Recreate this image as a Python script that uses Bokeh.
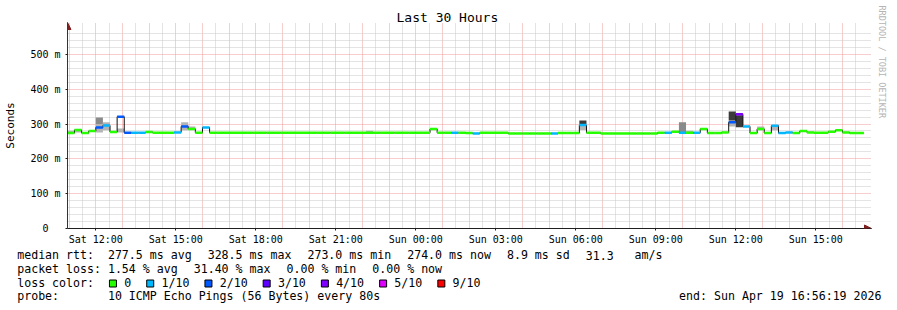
import pandas as pd
from bokeh.plotting import figure
from bokeh.models import Range1d, FixedTicker, Arrow, NormalHead, Title
from bokeh.core.properties import value
from bokeh.embed import file_html
from bokeh.resources import INLINE

# ---------------- data ----------------
range_start = "2026-04-18 10:56:19"
range_end = "2026-04-19 16:56:19"
first_step = "2026-04-18 10:56:00"
step_minutes = 16

# median round trip time per 16-minute step (ms)
median_ms = [
    274, 283, 274, 280, 290, 296, 277, 321, 275, 275,
    275, 277, 275, 275, 275, 276, 293, 286, 275, 290,
    275, 275, 275, 275, 275, 275, 275, 275, 275, 275,
    275, 275, 275, 275, 275, 275, 275, 275, 275, 275,
    275, 275, 275, 275, 275, 275, 275, 275, 275, 275,
    275, 286, 275, 275, 275, 275, 274, 273, 275, 275,
    275, 275, 273, 273, 273, 273, 273, 273, 273, 274,
    274, 274, 297, 275, 275, 273, 273, 273, 273, 273,
    273, 273, 273, 275, 275, 278, 275, 275, 275, 286,
    274, 274, 276, 305, 328, 293, 274, 286, 274, 295,
    274, 276, 274, 280, 276, 275, 275, 278, 282, 276,
    274, 274,
]
# packet loss per step (% of pings)
loss_pct = [
    0, 0, 0, 0, 15, 5, 0, 15, 15, 5,
    5, 0, 0, 0, 0, 5, 15, 0, 0, 5,
    0, 0, 0, 0, 0, 0, 0, 0, 0, 0,
    0, 0, 0, 0, 0, 0, 0, 0, 0, 0,
    0, 0, 0, 0, 0, 0, 0, 0, 0, 0,
    0, 0, 0, 0, 5, 0, 0, 5, 0, 0,
    0, 0, 0, 0, 0, 0, 0, 0, 5, 0,
    0, 0, 5, 0, 0, 0, 0, 0, 0, 0,
    0, 0, 0, 0, 5, 0, 5, 0, 5, 0,
    0, 0, 0, 15, 31.4, 5, 0, 0, 0, 5,
    5, 5, 0, 0, 0, 0, 0, 0, 0, 0,
    0, 0,
]
# smoke (spread of the pings) - light, medium and dark bands
smoke_light_idx = [0, 1, 4, 5, 7, 16, 17, 42, 72, 87, 93, 97, 99]
smoke_light_lo = [274, 276, 276, 282, 276, 282, 283, 276, 283, 277, 293, 282, 282]
smoke_light_hi = [281, 283, 300, 305, 287, 305, 293, 281, 300, 281, 310, 293, 296]
smoke_mid_idx = [4, 86]
smoke_mid_lo = [300, 276]
smoke_mid_hi = [319, 305]
smoke_dark_idx = [72, 93, 94]
smoke_dark_lo = [300, 310, 291]
smoke_dark_hi = [310, 336, 325]

# loss colour legend
loss_labels = ["0", "1/10", "2/10", "3/10", "4/10", "5/10", "9/10"]
loss_upper = [0, 10, 20, 30, 40, 50, 100]
loss_colors = ["#26ff00", "#00b8ff", "#0059ff", "#5e00ff", "#7e00ff", "#dd00ff", "#ff0000"]

# axes
x_tick_times = ["2026-04-18 12:00", "2026-04-18 15:00", "2026-04-18 18:00", "2026-04-18 21:00",
                "2026-04-19 00:00", "2026-04-19 03:00", "2026-04-19 06:00", "2026-04-19 09:00",
                "2026-04-19 12:00", "2026-04-19 15:00"]
x_tick_labels = ["Sat 12:00", "Sat 15:00", "Sat 18:00", "Sat 21:00", "Sun 00:00",
                 "Sun 03:00", "Sun 06:00", "Sun 09:00", "Sun 12:00", "Sun 15:00"]
y_ticks = [0, 100, 200, 300, 400, 500]
y_tick_labels = ["0\u00a0\u00a0", "100 m", "200 m", "300 m", "400 m", "500 m"]
y_max = 580

# texts
title_text = "Last 30 Hours"
y_label = "Seconds"
rrd_credit = "RRDTOOL / TOBI OETIKER"
median_head = "median rtt:"
median_stats = ["277.5 ms avg", "328.5 ms max", "273.0 ms min", "274.0 ms now", "8.9 ms sd"]
am_value, am_unit = "31.3", "am/s"
loss_head = "packet loss:"
loss_stats = ["1.54 % avg", "31.40 % max", "0.00 % min", "0.00 % now"]
color_head = "loss color:"
probe_head = "probe:"
probe_text = "10 ICMP Echo Pings (56 Bytes) every 80s"
end_text = "end: Sun Apr 19 16:56:19 2026"

# ---------------- derived ----------------
def ms(t):
    return pd.Timestamp(t).value / 1e6

n = len(median_ms)
edges = pd.date_range(first_step, periods=n + 1, freq=f"{step_minutes}min")
left = edges[:-1]
right = edges[1:]

def loss_color(v):
    for up, c in zip(loss_upper, loss_colors):
        if v <= up:
            return c
    return loss_colors[-1]

seg_colors = [loss_color(v) for v in loss_pct]

FONT = "DejaVu Sans Mono"
t0, t1 = pd.Timestamp(range_start), pd.Timestamp(range_end)
# a few pixels of room beyond the data window for the axis arrow heads
x_pad = pd.Timedelta(minutes=9)
y_pad = 11.5

p = figure(width=897, height=248, x_axis_type="datetime",
           x_range=Range1d(t0, t1 + x_pad), y_range=Range1d(0, y_max + y_pad),
           output_backend="svg", toolbar_location=None,
           min_border_left=67, min_border_right=26, min_border_top=22, min_border_bottom=20)
p.background_fill_color = "white"
p.border_fill_color = "white"
p.outline_line_color = None

# title
p.title.text = title_text
p.title.text_font = FONT
p.title.text_font_size = "13px"
p.title.text_font_style = "normal"
p.title.text_color = "black"
p.title.align = "left"
p.title.offset = 329
p.title.standoff = -5

# grids
hour_ticks = [ms(t) for t in pd.date_range("2026-04-18 11:00", "2026-04-19 16:00", freq="1h")]
half_ticks = [ms(t) for t in pd.date_range("2026-04-18 11:30", "2026-04-19 16:30", freq="1h")]
p.xgrid.ticker = FixedTicker(ticks=hour_ticks, minor_ticks=half_ticks)
p.ygrid.ticker = FixedTicker(ticks=y_ticks, minor_ticks=[v for v in range(20, y_max, 20) if v % 100])
for g in (p.xgrid[0], p.ygrid[0]):
    g.grid_line_color = "#ee9a9a"
    g.grid_line_dash = "1 1"
    g.grid_line_width = 1
    g.minor_grid_line_color = "#c8c8c8"
    g.minor_grid_line_dash = "1 1"
    g.minor_grid_line_width = 1

# axes
x_tick_ms = [ms(t) for t in x_tick_times]
p.xaxis.ticker = FixedTicker(ticks=x_tick_ms)
p.xaxis.major_label_overrides = {k: v for k, v in zip(x_tick_ms, x_tick_labels)}
p.yaxis.ticker = FixedTicker(ticks=y_ticks)
p.yaxis.major_label_overrides = {k: v for k, v in zip(y_ticks, y_tick_labels)}
for ax in (p.xaxis[0], p.yaxis[0]):
    ax.major_label_text_font = FONT
    ax.major_label_text_font_size = "10px"
    ax.major_label_text_color = "black"
    ax.major_tick_in = 0
    ax.major_tick_out = 2
    ax.minor_tick_in = 0
    ax.minor_tick_out = 0
    ax.major_tick_line_color = "#1f1f1f"
p.xaxis.axis_line_color = "#1f1f1f"
p.yaxis.axis_line_color = "#4a2a2a"
p.xaxis.major_label_standoff = 3
p.yaxis.major_label_standoff = 5
p.yaxis.axis_label = y_label
p.yaxis.axis_label_text_font = FONT
p.yaxis.axis_label_text_font_size = "11px"
p.yaxis.axis_label_text_font_style = "normal"
p.yaxis.axis_label_text_color = "black"
p.yaxis.axis_label_standoff = 10

# smoke
p.quad(left=[left[i] for i in smoke_light_idx], right=[right[i] for i in smoke_light_idx],
       bottom=smoke_light_lo, top=smoke_light_hi, fill_color="#b4b4b4", line_color=None)
p.quad(left=[left[i] for i in smoke_mid_idx], right=[right[i] for i in smoke_mid_idx],
       bottom=smoke_mid_lo, top=smoke_mid_hi, fill_color="#8a8a8a", line_color=None)
p.quad(left=[left[i] for i in smoke_dark_idx], right=[right[i] for i in smoke_dark_idx],
       bottom=smoke_dark_lo, top=smoke_dark_hi, fill_color="#3a3a3a", line_color=None)

# median line (black step) and loss-coloured median bands
p.step(x=list(edges), y=median_ms + [median_ms[-1]], mode="after", line_color="#101010", line_width=1)
p.segment(x0=list(left), x1=list(right), y0=median_ms, y1=median_ms,
          line_color=seg_colors, line_width=2.5)

# axis arrow heads
arrow_col = "#801f1f"
p.add_layout(Arrow(end=NormalHead(size=7, fill_color=arrow_col, line_color=arrow_col),
                   line_color="#1f1f1f", line_width=1,
                   x_start=ms(t1), y_start=0, x_end=ms(t1 + x_pad), y_end=0))
p.add_layout(Arrow(end=NormalHead(size=7, fill_color=arrow_col, line_color=arrow_col),
                   line_color="#4a2a2a", line_width=1,
                   x_start=ms(t0), y_start=y_max, x_end=ms(t0), y_end=y_max + y_pad))

# vertical credit on the right
p.add_layout(Title(text=rrd_credit, align="left", offset=-17, text_font=FONT, text_font_size="8.5px",
                   text_font_style="normal", text_color="#b4b4b4", standoff=10), "right")

# ---------------- legend block ----------------
q = figure(width=897, height=62, x_range=Range1d(0, 897), y_range=Range1d(310, 248),
           output_backend="svg", toolbar_location=None, min_border=0,
           x_axis_location=None, y_axis_location=None)
q.background_fill_color = "white"
q.border_fill_color = "white"
q.outline_line_color = None
q.grid.visible = False

CW = 6.98
GAP = 16
X_HEAD = 16.7
X_VAL = 107.4
ys = [254.5, 268.3, 282.1, 295.9]

tx, ty, tt = [], [], []

def put(x, y, s):
    tx.append(x); ty.append(y); tt.append(s)

def row(items, y):
    x = X_VAL
    for s in items:
        put(x, y, s)
        x += len(s) * CW + GAP
    return x

put(X_HEAD, ys[0], median_head)
xa = row(median_stats, ys[0])
put(xa, ys[0], am_value)
put(xa + 7 * CW, ys[0], am_unit)

put(X_HEAD, ys[1], loss_head)
row(loss_stats, ys[1])

put(X_HEAD, ys[2], color_head)
bx, by = [], []
x = X_VAL + 1.3
for lab in loss_labels:
    bx.append(x + 3.75)
    by.append(283)
    put(x + 15, ys[2], lab)
    x = x + 15 + len(lab) * CW + 15.3

put(X_HEAD, ys[3], probe_head)
put(X_VAL, ys[3], probe_text)

q.text(x=tx, y=ty, text=tt, text_font=value(FONT), text_font_size=value("11.6px"),
       text_baseline="middle", text_align="left", text_color="black")
q.text(x=[881], y=[ys[3]], text=[end_text], text_font=value(FONT), text_font_size=value("11.6px"),
       text_baseline="middle", text_align="right", text_color="black")
q.rect(x=bx, y=by, width=7, height=7, fill_color=loss_colors, line_color="black", line_width=1)

open("out.html", "w").write(file_html([p, q], INLINE))
